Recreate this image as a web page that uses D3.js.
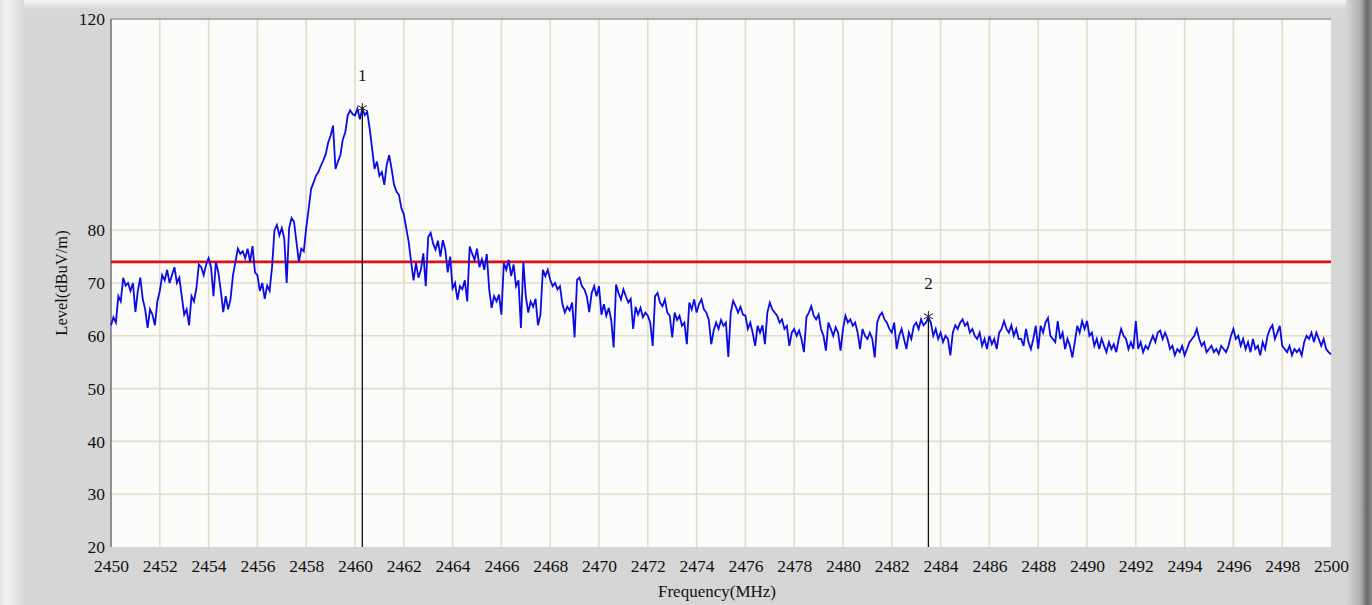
<!DOCTYPE html>
<html>
<head>
<meta charset="utf-8">
<script src="https://cdn.jsdelivr.net/npm/d3@7"></script>
<style>
  html, body { margin: 0; padding: 0; background: #d6d6d6; }
  svg { display: block; }
  text { font-family: "Liberation Serif", "DejaVu Serif", serif; fill: #111; }
</style>
</head>
<body>
<svg id="chart" width="1372" height="605"></svg>
<script>
// ---------------- data ----------------
const freqStart = 2450;      // MHz
const freqStep = 0.1;        // MHz sweep step
// Measured level (dBuV/m), one value every 0.1 MHz from 2450.0 to 2500.0
const levels = [
  62, 63.5, 62.5, 67.5, 66.5, 71, 69.5, 70, 68.5, 70, 64.5, 68.5, 71, 67, 65, 61.5, 65, 64, 62, 66.5,
  68.5, 71.5, 70.5, 72.5, 70, 71.5, 73, 70, 71, 67.5, 64, 65, 62, 67.5, 66.5, 69, 73.5, 73, 71.5, 73.5,
  74.7, 73, 67.5, 74, 72, 68.5, 64.5, 67.5, 65, 67, 71.5, 74, 76.5, 75.5, 76, 74.7, 76.5, 74, 77, 72,
  71.5, 68.5, 70, 67, 69.5, 68.5, 73, 80, 81, 79, 80.4, 78.5, 70, 80.4, 82.3, 81.6, 77.8, 74, 76.5, 76,
  80.4, 84, 87.8, 89, 90.3, 91, 92.2, 93.2, 94.4, 96.6, 97.9, 99.8, 91.6, 93, 94.2, 97.2, 98.5, 101.7, 102.7, 102,
  101.7, 103, 101, 103.1, 101.8, 102.4, 99.3, 95.5, 91.6, 93, 90.3, 91, 88.6, 92.4, 94.2, 91.6, 88.6, 87.3, 86.7, 84.2,
  83, 80.4, 77.8, 74, 70.5, 73.8, 71, 72.5, 75.6, 69.4, 78.7, 79.5, 77.5, 76.3, 78, 75, 78.1, 76.3, 72, 75,
  69, 70, 66.8, 69.4, 68.8, 70.5, 66.5, 76.9, 75.6, 74.4, 76.5, 73, 74.5, 72.5, 75.5, 68.8, 65.3, 67.5, 66.5, 67.8,
  64, 73.8, 72.5, 74.4, 71.3, 73.5, 69.4, 70.5, 61.5, 74, 67.5, 64.4, 66.5, 65.5, 67, 62, 64, 72.5, 71.3, 72.5,
  70.6, 69.4, 70, 68.8, 69.4, 66, 64.4, 65.5, 64.8, 66.3, 59.7, 70.6, 71, 69.4, 68.8, 67.5, 64.5, 68.1, 69.4, 67.5,
  69.4, 64, 66, 63.8, 65.3, 63, 57.8, 69.7, 68.1, 66.9, 68.8, 67.5, 66.3, 67, 61.3, 65.5, 64, 65.3, 63.5, 64.4,
  63.8, 62.5, 58.1, 67.5, 68.1, 66.3, 65.6, 66.9, 64.4, 63.8, 59.7, 64.4, 63, 63.8, 61.9, 62.5, 58.4, 66.3, 65, 66.9,
  64.4, 66, 66.9, 65, 64.4, 63, 58.4, 61, 62.5, 61.3, 63, 61.9, 62.5, 56, 64.4, 66.6, 65.6, 64.4, 65.5, 64,
  63.8, 61.3, 62.5, 60.5, 58.1, 61.9, 60.6, 62, 58.4, 64.4, 66.3, 65, 64.4, 63.8, 62.5, 63.1, 61.3, 61.9, 58.1, 60.6,
  61.3, 60, 61, 59.4, 56.9, 63.5, 64.4, 65.6, 63.8, 63.1, 64, 61.3, 60, 57.2, 62.5, 61.3, 60, 61.6, 60.6, 57.2,
  61.3, 63.8, 62.5, 63.1, 61.9, 62.5, 60.6, 57.5, 61.3, 60, 59.4, 60.6, 59.4, 55.9, 62.5, 63.8, 64.4, 63.1, 62.5, 61.3,
  60.6, 62.5, 57.5, 60, 61.3, 59.4, 57.5, 60.6, 59.4, 61.9, 62.5, 61.3, 63.1, 62, 62.5, 63.5, 62.5, 60, 61.3, 59.4,
  60.6, 58.8, 60, 59.4, 56.3, 60.6, 62, 61.3, 62.5, 63.1, 61.9, 62.5, 60.6, 61.3, 60, 59.4, 60.6, 58.1, 59.4, 57.5,
  60, 58.4, 59.4, 57.5, 60.6, 61.3, 62.8, 61.3, 60.6, 62, 60, 61.3, 59.4, 59.4, 58.1, 61.3, 58.8, 57.5, 59.4, 61.9,
  57.5, 61.9, 60.6, 62.5, 63.4, 60, 59.4, 58.8, 62.8, 59.4, 60.6, 57.5, 59.4, 58.1, 55.9, 58.8, 61.9, 60.6, 62.8, 61.3,
  62.8, 60, 60.6, 58.1, 59.4, 57.5, 59.4, 58.1, 56.9, 58.8, 57.5, 58.4, 56.9, 59.4, 61.3, 60, 59.4, 57.5, 58.8, 57.5,
  62.8, 57.5, 58.8, 56.9, 58.1, 57.5, 58.8, 60, 58.8, 60.6, 61, 59.4, 60.6, 59.4, 57.5, 58.1, 56.3, 57.5, 56.9, 58.1,
  56.3, 57.5, 58.8, 59.4, 60, 61.3, 59.4, 58.1, 58.8, 56.9, 57.5, 58.1, 56.9, 57.5, 56.6, 58.1, 57.5, 56.9, 58.1, 60,
  61.3, 59.4, 60, 58.1, 59.4, 57.5, 58.8, 56.9, 59.4, 57.5, 58.1, 56.3, 58.8, 57.5, 60, 61.3, 62, 59.4, 60.6, 61.9,
  58.1, 57.5, 56.9, 58.1, 56.3, 57.5, 56.9, 57.5, 56.3, 58.8, 60, 59.4, 60.6, 58.8, 60.6, 59.4, 58.1, 59.4, 57.5, 56.9, 56.5
];
const limitLevel = 74;
const markerLabels = ["1", "2"];
const markerFreqs = [2460.3, 2483.5];
const markerLevels = [103.1, 63.7];
const xTicks = [2450,2452,2454,2456,2458,2460,2462,2464,2466,2468,2470,2472,2474,2476,2478,2480,2482,2484,2486,2488,2490,2492,2494,2496,2498,2500];
const yTicks = [20, 30, 40, 50, 60, 70, 80, 120];
const yGrid = [30, 40, 50, 60, 70, 80];
const xTitle = "Frequency(MHz)";
const yTitle = "Level(dBuV/m)";

// ---------------- layout ----------------
const W = 1372, H = 605;
const pL = 111, pR = 1331, pT = 19, pB = 547;

const svg = d3.select("#chart");
const defs = svg.append("defs");

const gl = defs.append("linearGradient").attr("id", "gLeft").attr("x1", 0).attr("x2", 1).attr("y1", 0).attr("y2", 0);
gl.append("stop").attr("offset", 0).attr("stop-color", "#e2e2e2");
gl.append("stop").attr("offset", 0.25).attr("stop-color", "#f3f3f3");
gl.append("stop").attr("offset", 1).attr("stop-color", "#d6d6d6");

const gt = defs.append("linearGradient").attr("id", "gTop").attr("x1", 0).attr("x2", 0).attr("y1", 0).attr("y2", 1);
gt.append("stop").attr("offset", 0).attr("stop-color", "#f6f6f6");
gt.append("stop").attr("offset", 1).attr("stop-color", "#d6d6d6");

const gr = defs.append("linearGradient").attr("id", "gRight").attr("x1", 0).attr("x2", 1).attr("y1", 0).attr("y2", 0);
gr.append("stop").attr("offset", 0).attr("stop-color", "#d6d6d6");
gr.append("stop").attr("offset", 0.55).attr("stop-color", "#b0b0b0");
gr.append("stop").attr("offset", 0.8).attr("stop-color", "#6a6a6a");
gr.append("stop").attr("offset", 1).attr("stop-color", "#8a8a8a");

// panel background
svg.append("rect").attr("x", 0).attr("y", 0).attr("width", W).attr("height", H).attr("fill", "#d6d6d6");
svg.append("rect").attr("x", 0).attr("y", 0).attr("width", W).attr("height", 9).attr("fill", "url(#gTop)");
svg.append("rect").attr("x", 0).attr("y", 0).attr("width", 24).attr("height", H).attr("fill", "url(#gLeft)");
svg.append("rect").attr("x", 1346).attr("y", 0).attr("width", 26).attr("height", H).attr("fill", "url(#gRight)");

// scales
const x = d3.scaleLinear().domain([2450, 2500]).range([pL, pR]);
const y = d3.scaleLinear().domain([20, 120]).range([pB, pT]);

// plot area
svg.append("rect").attr("x", pL).attr("y", pT).attr("width", pR - pL).attr("height", pB - pT)
  .attr("fill", "#fbfbf9");

// grid
const grid = svg.append("g").attr("stroke", "#e2ddc9").attr("stroke-width", 1.6);
grid.selectAll("line.v").data(xTicks.filter(t => t > 2450 && t < 2500)).join("line")
  .attr("class", "v")
  .attr("x1", d => x(d)).attr("x2", d => x(d)).attr("y1", pT).attr("y2", pB);
grid.selectAll("line.h").data(yGrid).join("line")
  .attr("class", "h")
  .attr("x1", pL).attr("x2", pR).attr("y1", d => y(d)).attr("y2", d => y(d));

// borders
svg.append("line").attr("x1", pL).attr("x2", pR).attr("y1", pT).attr("y2", pT)
  .attr("stroke", "#9c9c9c").attr("stroke-width", 1.5);
svg.append("line").attr("x1", pL).attr("x2", pL).attr("y1", pT).attr("y2", pB)
  .attr("stroke", "#707070").attr("stroke-width", 1.5);

// axes (labels only)
const xAxis = d3.axisBottom(x).tickValues(xTicks).tickSize(0).tickPadding(0).tickFormat(d3.format("d"));
const gx = svg.append("g").attr("transform", `translate(0,${pB})`).call(xAxis);
gx.select(".domain").remove();
gx.selectAll("text").attr("dy", null).attr("y", 25).attr("font-size", 17.5)
  .attr("font-family", "'Liberation Serif', serif").attr("fill", "#111");

const yAxis = d3.axisLeft(y).tickValues(yTicks).tickSize(0).tickPadding(0).tickFormat(d3.format("d"));
const gy = svg.append("g").attr("transform", `translate(${pL - 6},0)`).call(yAxis);
gy.select(".domain").remove();
gy.selectAll("text").attr("x", 0).attr("dy", "0.32em").attr("font-size", 17.5)
  .attr("font-family", "'Liberation Serif', serif").attr("fill", "#111");

// titles
svg.append("text").attr("x", 717).attr("y", 597).attr("text-anchor", "middle")
  .attr("font-size", 17).text(xTitle);
svg.append("text").attr("transform", `translate(67,283) rotate(-90)`).attr("text-anchor", "middle")
  .attr("font-size", 16.5).text(yTitle);

// limit line
svg.append("line").attr("x1", pL).attr("x2", pR).attr("y1", y(limitLevel)).attr("y2", y(limitLevel))
  .attr("stroke", "#dd1111").attr("stroke-width", 2.6);

// trace
const pts = levels.map((v, i) => [freqStart + i * freqStep, v]);
const line = d3.line().x(d => x(d[0])).y(d => y(d[1]));
svg.append("path").datum(pts).attr("d", line).attr("fill", "none")
  .attr("stroke", "#0a0ae6").attr("stroke-width", 1.8).attr("stroke-linejoin", "miter");

// markers
const markers = markerFreqs.map((f, i) => ({ f, v: markerLevels[i], label: markerLabels[i] }));
const mg = svg.append("g");
mg.selectAll("line.m").data(markers).join("line").attr("class", "m")
  .attr("x1", d => x(d.f)).attr("x2", d => x(d.f)).attr("y1", d => y(d.v)).attr("y2", pB)
  .attr("stroke", "#111").attr("stroke-width", 1.3);
mg.selectAll("path.s").data(markers).join("path").attr("class", "s")
  .attr("transform", d => `translate(${x(d.f)},${y(d.v)})`)
  .attr("d", d3.symbol(d3.symbolAsterisk, 80)())
  .attr("fill", "none").attr("stroke", "#222").attr("stroke-width", 1);
mg.selectAll("text").data(markers).join("text")
  .attr("x", d => x(d.f)).attr("y", d => y(d.v) - 27).attr("text-anchor", "middle")
  .attr("font-size", 17).text(d => d.label);
</script>
</body>
</html>
